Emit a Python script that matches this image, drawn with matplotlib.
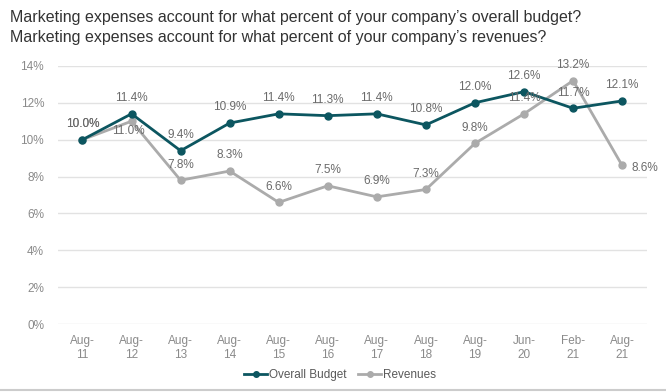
import matplotlib.pyplot as plt
from matplotlib.lines import Line2D

plt.rcParams['font.family'] = ['Liberation Sans', 'DejaVu Sans']

# data
periods = ['Aug-\n11', 'Aug-\n12', 'Aug-\n13', 'Aug-\n14', 'Aug-\n15', 'Aug-\n16',
           'Aug-\n17', 'Aug-\n18', 'Aug-\n19', 'Jun-\n20', 'Feb-\n21', 'Aug-\n21']
overall_budget = [10.0, 11.4, 9.4, 10.9, 11.4, 11.3, 11.4, 10.8, 12.0, 12.6, 11.7, 12.1]
revenues = [10.0, 11.0, 7.8, 8.3, 6.6, 7.5, 6.9, 7.3, 9.8, 11.4, 13.2, 8.6]
y_ticks = [0, 2, 4, 6, 8, 10, 12, 14]

teal = '#0c5660'
grey = '#ababab'
label_col = '#6b6b6b'

fig = plt.figure(figsize=(6.66, 3.92), dpi=100)
ax = fig.add_axes([0.087, 0.173, 0.884, 0.659])

x = list(range(len(periods)))
ax.plot(x, revenues, color=grey, lw=2, marker='o', ms=5, zorder=3)
ax.plot(x, overall_budget, color=teal, lw=2, marker='o', ms=5, zorder=4)

# data labels
for i, v in enumerate(overall_budget):
    ax.annotate(f'{v:.1f}%', (i, v), xytext=(0, 7), textcoords='offset points',
                ha='center', va='bottom', fontsize=8.5, color=label_col, zorder=5)
for i, v in enumerate(revenues):
    if i == 1:
        ax.annotate(f'{v:.1f}%', (i, v), xytext=(-2, -3), textcoords='offset points',
                    ha='center', va='top', fontsize=8.5, color=label_col, zorder=5)
    elif i == len(revenues) - 1:
        ax.annotate(f'{v:.1f}%', (i, v), xytext=(7, -2), textcoords='offset points',
                    ha='left', va='center', fontsize=8.5, color=label_col, zorder=5)
    else:
        ax.annotate(f'{v:.1f}%', (i, v), xytext=(0, 7), textcoords='offset points',
                    ha='center', va='bottom', fontsize=8.5, color=label_col, zorder=5)

ax.set_xlim(-0.5, len(periods) - 0.5)
ax.set_ylim(0, 14)
ax.set_yticks(y_ticks)
ax.set_yticklabels([f'{t}%' for t in y_ticks])
ax.set_xticks(x)
ax.set_xticklabels(periods)
ax.tick_params(axis='both', length=0, colors='#8a8a8a', labelsize=8.5)
ax.tick_params(axis='y', pad=10)
ax.tick_params(axis='x', pad=8)
ax.grid(axis='y', color='#e2e2e2', lw=1)
ax.set_axisbelow(True)
for s in ax.spines.values():
    s.set_visible(False)

handles = [Line2D([], [], color=teal, lw=2, marker='o', ms=4),
           Line2D([], [], color=grey, lw=2, marker='o', ms=4)]
fig.legend(handles, ['Overall Budget', 'Revenues'], loc='center', bbox_to_anchor=(0.51, 0.043),
           ncol=2, frameon=False, fontsize=8.5, labelcolor='#595959',
           handlelength=2, handletextpad=0.1, columnspacing=1.0)

fig.text(0.015, 0.955, "Marketing expenses account for what percent of your company\u2019s overall budget?",
         fontsize=11.5, color='#333333', va='center')
fig.text(0.015, 0.905, "Marketing expenses account for what percent of your company\u2019s revenues?",
         fontsize=11.5, color='#333333', va='center')

fig.add_artist(Line2D([0, 1], [0.005, 0.005], color='#cccccc', lw=1.5))

fig.savefig('out.png', dpi=100)
